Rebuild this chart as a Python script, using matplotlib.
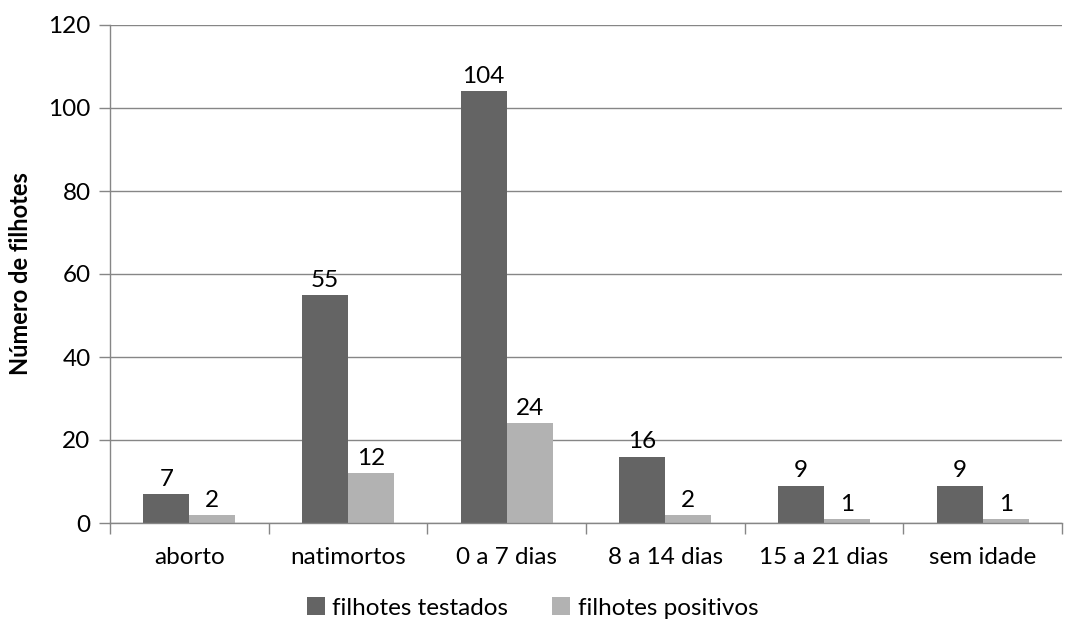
import matplotlib.pyplot as plt
from matplotlib.ticker import FixedLocator, NullFormatter
import numpy as np

plt.rcParams['font.family'] = ['Lato', 'DejaVu Sans']

categorias = ['aborto', 'natimortos', '0 a 7 dias', '8 a 14 dias', '15 a 21 dias', 'sem idade']
testados = [7, 55, 104, 16, 9, 9]
positivos = [2, 12, 24, 2, 1, 1]

cor_testados = '#646464'
cor_positivos = '#b2b2b2'
cor_eixo = '#868686'

fig = plt.figure(figsize=(10.65, 6.25), dpi=100)
ax = fig.add_axes([0.1033, 0.1632, 0.894, 0.7968])

x = np.arange(len(categorias))
width = 0.29
r1 = ax.bar(x - width / 2, testados, width, color=cor_testados, label='filhotes testados')
r2 = ax.bar(x + width / 2, positivos, width, color=cor_positivos, label='filhotes positivos')
ax.bar_label(r1, padding=3, fontsize=17.5)
ax.bar_label(r2, padding=3, fontsize=17.5)

ax.set_xlim(-0.5, len(categorias) - 0.5)
ax.set_ylim(0, 120)
ax.set_yticks(range(0, 121, 20))
ax.set_xticks(x)
ax.set_xticklabels(categorias)
# marcas do eixo x entre as categorias
ax.xaxis.set_minor_locator(FixedLocator(np.arange(-0.5, len(categorias), 1)))
ax.xaxis.set_minor_formatter(NullFormatter())
ax.tick_params(axis='x', which='major', length=0, pad=17, labelsize=17.5)
ax.tick_params(axis='x', which='minor', length=8, color=cor_eixo, width=1)
ax.tick_params(axis='y', length=8, color=cor_eixo, width=1, labelsize=17.5, pad=6)

ax.grid(axis='y', color=cor_eixo, linewidth=1)
ax.set_axisbelow(True)
for s in ['top', 'right']:
    ax.spines[s].set_visible(False)
for s in ['left', 'bottom']:
    ax.spines[s].set_color(cor_eixo)
    ax.spines[s].set_linewidth(1)

ax.set_ylabel('Número de filhotes', fontsize=17, fontweight='bold', labelpad=12)

fig.legend(loc='lower center', bbox_to_anchor=(0.5, -0.025), ncol=2, frameon=False,
           fontsize=17.5, handlelength=0.75, handleheight=0.75, handletextpad=0.3,
           columnspacing=1.8)

fig.savefig('out.png', dpi=100)
